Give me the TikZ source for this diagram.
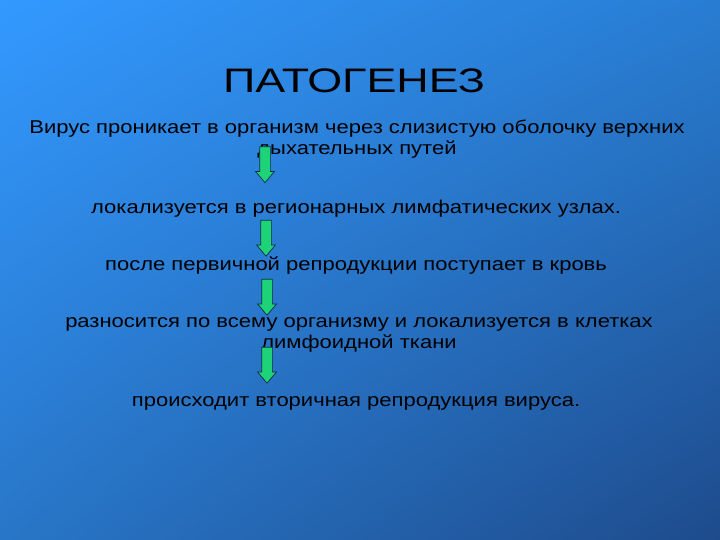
\documentclass[tikz,border=0pt]{standalone}
\usepackage{fontspec}
\setmainfont[FakeStretch=1.19]{Liberation Sans}
\newfontfamily\titlefont[FakeStretch=1.32]{Liberation Sans}
\usetikzlibrary{shapes.arrows, shadings}

\definecolor{bgtl}{RGB}{51,153,255}
\definecolor{bgtr}{RGB}{40,125,210}
\definecolor{bgbl}{RGB}{40,118,200}
\definecolor{bgbr}{RGB}{30,75,140}
\definecolor{arrgreen}{RGB}{30,210,120}
\definecolor{arrline}{RGB}{10,45,70}

\begin{document}
\begin{tikzpicture}[x=1pt, y=-1pt,
	txt/.style={anchor=base, align=center, inner sep=0pt, font=\fontsize{18.5}{21}\selectfont},
	downarrow/.style={single arrow, draw=arrline, fill=arrgreen, line width=0.7pt,
		minimum height=36pt, inner sep=5pt, single arrow head extend=4pt,
		single arrow tip angle=80, rotate=-90}]
	\shade[upper left=bgtl, upper right=bgtr, lower left=bgbl, lower right=bgbr]
		(0,0) rectangle (720,540);

	\node (title) [anchor=base, inner sep=0pt, font=\titlefont\fontsize{34}{34}\selectfont] at (354,93) {ПАТОГЕНЕЗ};
	% base of a two-line node sits on its last line
	\node (s1) [txt] at (357,155) {Вирус проникает в организм через слизистую оболочку верхних\\дыхательных путей};
	\node (s2) [txt] at (356,213.5) {локализуется в регионарных лимфатических узлах.};
	\node (s3) [txt] at (356,270.5) {после первичной репродукции поступает в кровь};
	\node (s4) [txt] at (359,348) {разносится по всему организму и локализуется в клетках\\лимфоидной ткани};
	\node (s5) [txt] at (356,406.5) {происходит вторичная репродукция вируса.};

	\node (a1) [downarrow] at (265,161.5) {};
	\node (a2) [downarrow] at (266,235) {};
	\node (a3) [downarrow] at (267,294) {};
	\node (a4) [downarrow] at (267,362) {};
\end{tikzpicture}
\end{document}
